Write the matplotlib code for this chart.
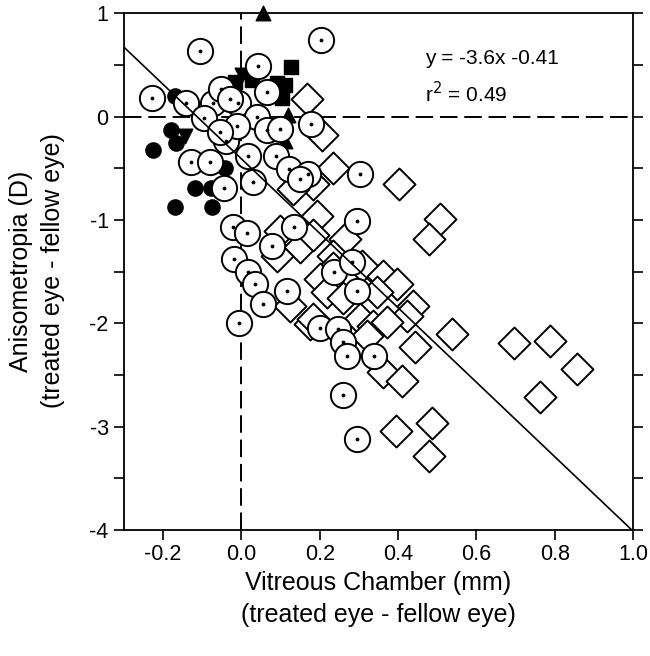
import matplotlib
matplotlib.use("Agg")
import matplotlib.pyplot as plt
import numpy as np
from matplotlib.ticker import MultipleLocator

plt.rcParams['font.family'] = ['Liberation Sans', 'DejaVu Sans']

# Open circles (with centre dot)
circ_x = [-0.106, 0.203, 0.042, -0.229, -0.142, -0.073, -0.009, 0.065, -0.052,
          -0.096, 0.040, 0.065, 0.178, -0.040, 0.017, 0.088, 0.121, 0.170,
          -0.129, -0.080, -0.045, 0.029, 0.303, -0.029, -0.011, -0.055, 0.098,
          0.149, 0.295, 0.134, -0.022, 0.014, 0.078, -0.019, 0.017, 0.034,
          0.055, 0.116, -0.006, 0.236, 0.282, 0.295, 0.201, 0.246, 0.259,
          0.269, 0.338, 0.259, 0.295]
circ_y = [0.63, 0.74, 0.49, 0.18, 0.13, 0.13, 0.13, 0.24, 0.27,
          -0.01, 0.00, -0.13, -0.07, -0.24, -0.38, -0.38, -0.51, -0.56,
          -0.44, -0.44, -0.69, -0.63, -0.56, 0.17, -0.09, -0.15, -0.12,
          -0.60, -1.01, -1.07, -1.07, -1.13, -1.25, -1.38, -1.50, -1.62,
          -1.81, -1.69, -2.00, -1.50, -1.41, -1.69, -2.05, -2.06, -2.18,
          -2.32, -2.32, -2.69, -3.12]

# Open diamonds
diam_x = [0.167, 0.206, 0.234, 0.183, 0.132, 0.402, 0.193, 0.098, 0.149, 0.091,
          0.264, 0.183, 0.234, 0.234, 0.308, 0.201, 0.218, 0.361, 0.397, 0.346,
          0.259, 0.124, 0.175, 0.303, 0.336, 0.438, 0.423, 0.372, 0.321, 0.443,
          0.361, 0.410, 0.538, 0.507, 0.479, 0.696, 0.788, 0.857, 0.762, 0.395,
          0.487, 0.479, 0.183]
diam_y = [0.17, -0.18, -0.50, -0.65, -0.70, -0.65, -0.96, -1.11, -1.26, -1.35,
          -1.18, -1.15, -1.35, -1.47, -1.45, -1.57, -1.70, -1.54, -1.62, -1.70,
          -1.76, -1.83, -2.01, -1.96, -2.03, -1.83, -1.93, -1.99, -2.12, -2.23,
          -2.47, -2.56, -2.10, -0.99, -1.18, -2.19, -2.17, -2.44, -2.71, -3.04,
          -2.96, -3.28, -1.96]

# Filled circles
fcirc_x = [-0.170, -0.180, -0.167, -0.226, -0.119, -0.078, -0.170, -0.075, -0.042]
fcirc_y = [0.20, -0.13, -0.26, -0.32, -0.69, -0.69, -0.88, -0.88, -0.50]

# Filled squares
sq_x = [0.126, 0.111, 0.103, -0.017, 0.027, 0.091]
sq_y = [0.48, 0.30, 0.18, 0.33, 0.35, 0.32]

# Filled triangles (up / down)
tri_up_x = [0.055, 0.119, 0.111]
tri_up_y = [1.00, 0.01, -0.24]
tri_dn_x = [-0.144, 0.002]
tri_dn_y = [-0.19, 0.40]

# Regression
slope, intercept, r2 = -3.6, -0.41, 0.49

x_ticks = [-0.2, 0.0, 0.2, 0.4, 0.6, 0.8, 1.0]
y_ticks = [-4, -3, -2, -1, 0, 1]

fig = plt.figure(figsize=(6.5, 6.56), dpi=100)
ax = fig.add_axes([0.1908, 0.192, 0.783, 0.788])

dash = (0, (9, 3.5))
ax.axhline(0, color='black', lw=1.4, ls=dash, zorder=1)
ax.axvline(0, color='black', lw=1.4, ls=dash, zorder=1)

ax.scatter(diam_x, diam_y, marker='D', s=265, facecolor='white',
           edgecolor='black', linewidths=1.4, zorder=2)
ax.scatter(fcirc_x, fcirc_y, marker='o', s=120, color='black', zorder=3)
ax.scatter(sq_x, sq_y, marker='s', s=100, color='black', zorder=3)
ax.scatter(tri_up_x, tri_up_y, marker='^', s=110, color='black', zorder=3,
           clip_on=False)
ax.scatter(tri_dn_x, tri_dn_y, marker='v', s=110, color='black', zorder=3)

ax.scatter(circ_x, circ_y, marker='o', s=330, facecolor='white',
           edgecolor='black', linewidths=1.4, zorder=4)
ax.scatter(circ_x, circ_y, marker='o', s=3, color='black', zorder=5)

xl = np.array([-0.3, 1.0])
ax.plot(xl, slope * xl + intercept, color='black', lw=1.2, zorder=6)

ax.text(0.469, 0.56, 'y = %.1fx %.2f' % (slope, intercept), fontsize=15,
        va='center')
ax.text(0.469, 0.22, 'r$^2$ = %.2f' % r2, fontsize=15, va='center')

ax.set_xlim(-0.3, 1.0)
ax.set_ylim(-4, 1)
ax.set_xticks(x_ticks)
ax.set_xticklabels(['%.1f' % v for v in x_ticks])
ax.set_yticks(y_ticks)
ax.set_yticklabels([str(v) for v in y_ticks])
ax.yaxis.set_minor_locator(MultipleLocator(0.5))
ax.tick_params(axis='both', which='both', direction='out', width=1.2,
               labelsize=15.5)
ax.tick_params(axis='x', length=7, top=False, pad=3)
ax.tick_params(axis='y', which='both', length=7, right=True,
               labelright=False, pad=4)
for s in ax.spines.values():
    s.set_linewidth(1.3)

fig.text(378 / 650, 1 - 599 / 656,
         'Vitreous Chamber (mm)\n(treated eye - fellow eye)',
         fontsize=18, ha='center', va='center', linespacing=1.45)
fig.text(37 / 650, 1 - 271 / 656,
         'Anisometropia (D)\n(treated eye - fellow eye)',
         fontsize=18, ha='center', va='center', rotation=90,
         linespacing=1.45)

fig.savefig('out.png', dpi=100)
